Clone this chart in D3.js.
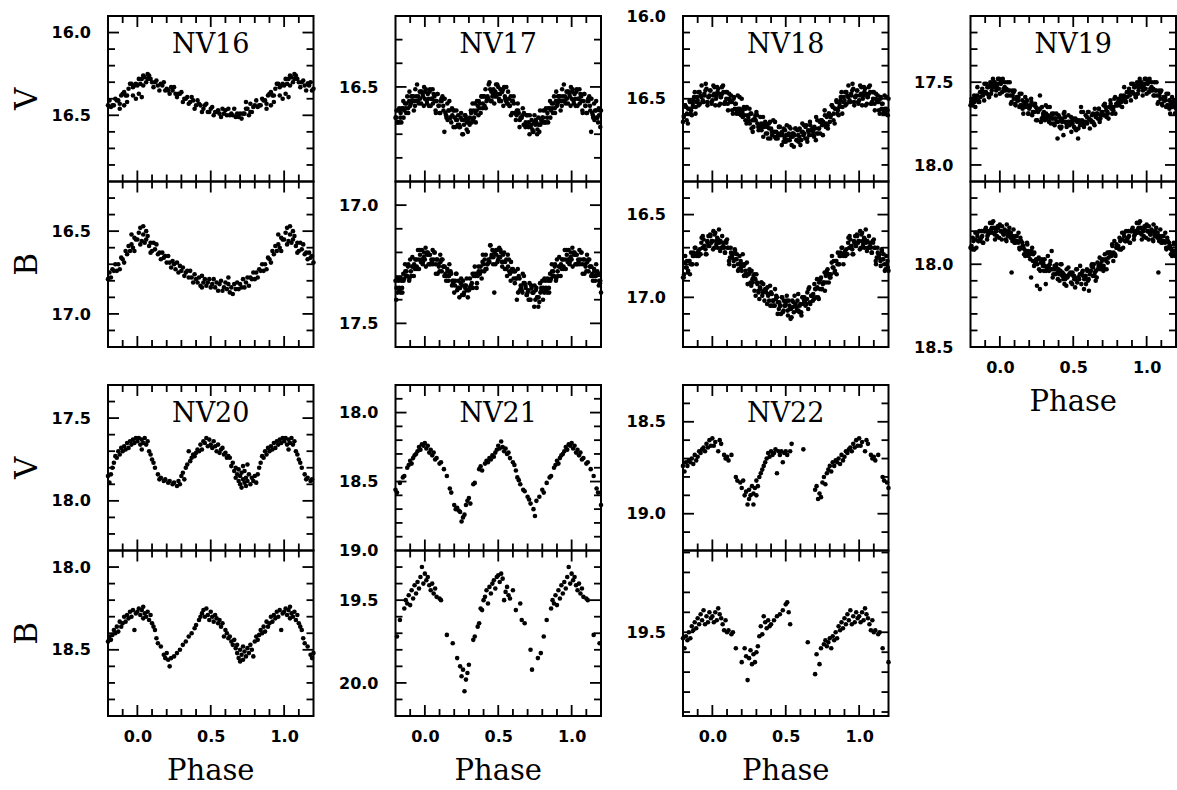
<!DOCTYPE html>
<html>
<head>
<meta charset="utf-8">
<script src="https://cdn.jsdelivr.net/npm/d3@7"></script>
<style>
body{margin:0;background:#fff}
</style>
</head>
<body>
<svg></svg>
<script>
// light curves, phase folded into 0..1
var names = ["NV16","NV17","NV18","NV19","NV20","NV21","NV22"]

// NV16, NV20-NV22: [phase, magnitude]
var nv16V = [[0,16.32],[.01,16.28],[.02,16.31],[.03,16.28],[.04,16.32],[.05,16.27],[.06,16.30],[.07,16.28],[.08,16.26],[.09,16.28],[.10,16.30],[.11,16.33],[.12,16.30],[.13,16.29],[.14,16.32],[.15,16.35],[.16,16.31],[.17,16.32],[.18,16.30],[.19,16.35],[.20,16.34],[.21,16.35],[.22,16.37],[.23,16.33],[.24,16.35],[.25,16.33],[.26,16.37],[.27,16.39],[.28,16.37],[.29,16.37],[.30,16.36],[.31,16.42],[.32,16.40],[.33,16.40],[.34,16.39],[.35,16.43],[.36,16.42],[.37,16.39],[.38,16.41],[.39,16.46],[.40,16.44],[.41,16.41],[.42,16.43],[.43,16.44],[.44,16.48],[.45,16.46],[.46,16.44],[.47,16.43],[.48,16.48],[.49,16.48],[.50,16.46],[.51,16.45],[.52,16.50],[.53,16.48],[.54,16.48],[.55,16.47],[.56,16.49],[.57,16.51],[.58,16.46],[.59,16.49],[.60,16.47],[.61,16.50],[.62,16.46],[.63,16.50],[.64,16.49],[.65,16.50],[.66,16.46],[.67,16.51],[.68,16.49],[.69,16.51],[.70,16.49],[.71,16.52],[.72,16.49],[.73,16.49],[.74,16.46],[.75,16.46],[.76,16.50],[.77,16.48],[.78,16.48],[.79,16.45],[.80,16.44],[.81,16.41],[.82,16.45],[.83,16.44],[.84,16.44],[.85,16.40],[.86,16.41],[.87,16.41],[.88,16.43],[.89,16.38],[.90,16.37],[.91,16.36],[.92,16.38],[.93,16.38],[.94,16.34],[.95,16.31],[.96,16.31],[.97,16.33],[.98,16.32],[.99,16.31],
  [.97,16.38],[.99,16.40],[.01,16.37],[.03,16.39],[.93,16.42],[.91,16.44],[.88,16.46],[.04,16.26],[.07,16.25],[.74,16.42],[.77,16.43]]
var nv16B = [[0,16.55],[.01,16.51],[.02,16.48],[.03,16.56],[.04,16.52],[.05,16.57],[.06,16.55],[.07,16.53],[.08,16.59],[.09,16.57],[.10,16.62],[.11,16.57],[.12,16.61],[.13,16.58],[.14,16.64],[.15,16.63],[.16,16.67],[.17,16.63],[.18,16.66],[.19,16.65],[.20,16.69],[.21,16.65],[.22,16.69],[.23,16.72],[.24,16.68],[.25,16.70],[.26,16.73],[.27,16.69],[.28,16.75],[.29,16.71],[.30,16.74],[.31,16.72],[.32,16.77],[.33,16.75],[.34,16.74],[.35,16.78],[.36,16.74],[.37,16.78],[.38,16.81],[.39,16.76],[.40,16.79],[.41,16.81],[.42,16.78],[.43,16.83],[.44,16.77],[.45,16.81],[.46,16.79],[.47,16.83],[.48,16.81],[.49,16.79],[.50,16.84],[.51,16.82],[.52,16.79],[.53,16.84],[.54,16.81],[.55,16.86],[.56,16.82],[.57,16.80],[.58,16.86],[.59,16.84],[.60,16.81],[.61,16.85],[.62,16.82],[.63,16.87],[.64,16.84],[.65,16.88],[.66,16.82],[.67,16.85],[.68,16.81],[.69,16.85],[.70,16.82],[.71,16.84],[.72,16.79],[.73,16.84],[.74,16.81],[.75,16.78],[.76,16.83],[.77,16.78],[.78,16.79],[.79,16.75],[.80,16.79],[.81,16.75],[.82,16.78],[.83,16.73],[.84,16.74],[.85,16.70],[.86,16.74],[.87,16.70],[.88,16.73],[.89,16.66],[.90,16.67],[.91,16.69],[.92,16.62],[.93,16.64],[.94,16.59],[.95,16.62],[.96,16.58],[.97,16.60],[.98,16.54],[.99,16.55],
  [.02,16.58],[.04,16.47],[.06,16.50],[.96,16.52],[.98,16.62],[.09,16.63],[.62,16.78],[.44,16.84]]

// NV17-NV19 were read on two phase grids: three readings per 0.02, then one per 0.01 in between
var gridPhase = [0,.007,.013,.02,.027,.033,.04,.047,.053,.06,.067,.073,.08,.087,.093,.10,.107,.113,.12,.127,.133,.14,.147,.153,.16,.167,.173,.18,.187,.193,
  .20,.207,.213,.22,.227,.233,.24,.247,.253,.26,.267,.273,.28,.287,.293,.30,.307,.313,.32,.327,.333,.34,.347,.353,.36,.367,.373,.38,.387,.393,
  .40,.407,.413,.42,.427,.433,.44,.447,.453,.46,.467,.473,.48,.487,.493,.50,.507,.513,.52,.527,.533,.54,.547,.553,.56,.567,.573,.58,.587,.593,
  .60,.607,.613,.62,.627,.633,.64,.647,.653,.66,.667,.673,.68,.687,.693,.70,.707,.713,.72,.727,.733,.74,.747,.753,.76,.767,.773,.78,.787,.793,
  .80,.807,.813,.82,.827,.833,.84,.847,.853,.86,.867,.873,.88,.887,.893,.90,.907,.913,.92,.927,.933,.94,.947,.953,.96,.967,.973,.98,.987,.993]
var midPhase = [.005,.015,.025,.035,.045,.055,.065,.075,.085,.095,.105,.115,.125,.135,.145,.155,.165,.175,.185,.195,
  .205,.215,.225,.235,.245,.255,.265,.275,.285,.295,.305,.315,.325,.335,.345,.355,.365,.375,.385,.395,
  .405,.415,.425,.435,.445,.455,.465,.475,.485,.495,.505,.515,.525,.535,.545,.555,.565,.575,.585,.595,
  .605,.615,.625,.635,.645,.655,.665,.675,.685,.695,.705,.715,.725,.735,.745,.755,.765,.775,.785,.795,
  .805,.815,.825,.835,.845,.855,.865,.875,.885,.895,.905,.915,.925,.935,.945,.955,.965,.975,.985,.995]

var nv17V = [16.55,16.51,16.56,16.53,16.58,16.52,16.58,16.55,16.51,16.53,16.56,16.60,16.56,16.53,16.58,16.61,16.56,16.55,16.54,16.60,16.69,16.61,16.63,16.57,16.60,16.56,16.63,16.65,16.62,16.60,
  16.60,16.67,16.64,16.64,16.62,16.67,16.67,16.61,16.64,16.70,16.66,16.62,16.63,16.65,16.69,16.65,16.63,16.60,16.65,16.64,16.60,16.57,16.65,16.60,16.58,16.56,16.59,16.61,16.54,16.59,
  16.54,16.58,16.51,16.56,16.54,16.55,16.48,16.56,16.52,16.54,16.51,16.57,16.52,16.54,16.49,16.50,16.56,16.53,16.56,16.52,16.51,16.50,16.55,16.56,16.57,16.52,16.55,16.58,16.62,16.56,
  16.56,16.57,16.61,16.64,16.60,16.57,16.61,16.64,16.63,16.63,16.59,16.66,16.66,16.65,16.62,16.62,16.65,16.70,16.67,16.64,16.68,16.69,16.62,16.66,16.65,16.68,16.63,16.69,16.66,16.64,
  16.63,16.60,16.65,16.60,16.65,16.63,16.65,16.59,16.56,16.60,16.59,16.61,16.54,16.61,16.56,16.58,16.54,16.56,16.54,16.56,16.58,16.54,16.49,16.56,16.57,16.55,16.52,16.52,16.54,16.58]
var nv17Vmid = [16.52,16.57,16.55,16.51,16.55,16.57,16.54,16.61,16.53,16.58,16.61,16.56,16.58,16.55,16.62,16.64,16.60,16.63,16.59,16.67,
  16.63,16.60,16.66,16.66,16.63,16.70,16.64,16.62,16.68,16.64,16.66,16.61,16.57,16.63,16.61,16.56,16.62,16.57,16.54,16.57,
  16.54,16.59,16.55,16.49,16.51,16.56,16.53,16.54,16.49,16.53,16.55,16.51,16.52,16.58,16.54,16.50,16.57,16.58,16.54,16.61,
  16.54,16.61,16.62,16.60,16.67,16.63,16.62,16.61,16.67,16.66,16.67,16.62,16.66,16.69,16.65,16.64,16.70,16.66,16.60,16.65,
  16.63,16.65,16.59,16.61,16.59,16.63,16.57,16.57,16.59,16.52,16.57,16.54,16.60,16.51,16.56,16.54,16.52,16.57,16.53,16.50]
var nv17B = [17.23,17.26,17.20,17.20,17.21,17.25,17.25,17.24,17.19,17.23,17.20,17.25,17.23,17.29,17.25,17.28,17.24,17.23,17.23,17.26,17.30,17.29,17.30,17.27,17.32,17.25,17.29,17.29,17.32,17.33,
  17.37,17.32,17.29,17.36,17.32,17.35,17.35,17.31,17.38,17.32,17.37,17.34,17.34,17.36,17.39,17.36,17.31,17.34,17.33,17.35,17.30,17.26,17.29,17.35,17.30,17.28,17.29,17.26,17.31,17.24,
  17.25,17.23,17.27,17.27,17.25,17.23,17.24,17.17,17.22,17.19,17.22,17.37,17.25,17.21,17.19,17.23,17.18,17.22,17.20,17.26,17.21,17.20,17.24,17.27,17.30,17.26,17.23,17.29,17.24,17.27,
  17.27,17.28,17.33,17.31,17.40,17.27,17.30,17.36,17.34,17.36,17.29,17.33,17.33,17.35,17.38,17.37,17.40,17.33,17.40,17.35,17.37,17.37,17.34,17.40,17.35,17.39,17.43,17.41,17.37,17.35,
  17.32,17.35,17.37,17.32,17.36,17.37,17.32,17.37,17.29,17.31,17.28,17.30,17.30,17.25,17.32,17.23,17.30,17.26,17.26,17.25,17.27,17.23,17.27,17.19,17.27,17.21,17.24,17.19,17.24,17.22]
var nv17Bmid = [17.18,17.21,17.25,17.21,17.23,17.25,17.20,17.29,17.23,17.26,17.21,17.28,17.26,17.26,17.32,17.28,17.30,17.28,17.34,17.32,
  17.34,17.29,17.35,17.39,17.33,17.34,17.38,17.35,17.31,17.36,17.35,17.35,17.29,17.29,17.30,17.33,17.26,17.29,17.28,17.21,
  17.28,17.21,17.25,17.24,17.17,17.21,17.25,17.20,17.19,17.24,17.22,17.19,17.24,17.24,17.27,17.23,17.21,17.28,17.32,17.28,
  17.31,17.28,17.31,17.37,17.31,17.35,17.37,17.30,17.34,17.38,17.36,17.40,17.34,17.37,17.43,17.36,17.39,17.39,17.33,17.36,
  17.40,17.31,17.35,17.31,17.35,17.32,17.25,17.28,17.26,17.31,17.28,17.22,17.30,17.23,17.26,17.23,17.19,17.23,17.25,17.20]

var nv18V = [16.51,16.42,16.47,16.54,16.48,16.43,16.44,16.47,16.53,16.49,16.47,16.42,16.53,16.52,16.46,16.46,16.57,16.50,16.51,16.48,16.52,16.59,16.49,16.56,16.53,16.58,16.48,16.59,16.56,16.57,
  16.50,16.61,16.56,16.60,16.56,16.65,16.60,16.63,16.56,16.59,16.68,16.63,16.67,16.62,16.60,16.58,16.65,16.67,16.68,16.61,16.65,16.67,16.73,16.65,16.64,16.66,16.71,16.74,16.68,16.64,
  16.68,16.72,16.70,16.70,16.64,16.74,16.73,16.71,16.67,16.67,16.71,16.78,16.72,16.68,16.74,16.76,16.66,16.72,16.71,16.75,16.68,16.78,16.73,16.71,16.72,16.68,16.75,16.69,16.76,16.73,
  16.78,16.70,16.65,16.72,16.71,16.74,16.66,16.76,16.69,16.72,16.66,16.69,16.68,16.70,16.73,16.68,16.61,16.71,16.71,16.68,16.64,16.63,16.66,16.72,16.65,16.60,16.67,16.61,16.68,16.59,
  16.64,16.60,16.54,16.55,16.59,16.65,16.56,16.52,16.59,16.60,16.53,16.51,16.46,16.55,16.52,16.51,16.54,16.46,16.48,16.42,16.52,16.52,16.48,16.45,16.44,16.54,16.49,16.48,16.45,16.52]
var nv18Vmid = [16.48,16.43,16.50,16.46,16.54,16.49,16.43,16.46,16.53,16.50,16.53,16.47,16.52,16.57,16.50,16.53,16.59,16.56,16.49,16.60,
  16.58,16.55,16.63,16.55,16.61,16.65,16.59,16.70,16.63,16.63,16.60,16.69,16.66,16.69,16.61,16.67,16.71,16.67,16.65,16.74,
  16.70,16.63,16.73,16.70,16.74,16.67,16.72,16.70,16.76,16.69,16.72,16.75,16.67,16.73,16.71,16.79,16.68,16.75,16.72,16.68,
  16.75,16.70,16.66,16.67,16.74,16.70,16.64,16.69,16.72,16.67,16.75,16.63,16.68,16.71,16.63,16.64,16.57,16.65,16.66,16.59,
  16.61,16.54,16.63,16.56,16.51,16.57,16.55,16.49,16.59,16.49,16.46,16.53,16.49,16.51,16.47,16.41,16.52,16.49,16.45,16.53]
var nv18B = [16.66,16.60,16.70,16.61,16.68,16.64,16.65,16.67,16.72,16.70,16.63,16.67,16.70,16.73,16.66,16.65,16.70,16.78,16.76,16.73,16.74,16.74,16.81,16.71,16.77,16.74,16.80,16.83,16.80,16.78,
  16.84,16.74,16.81,16.80,16.84,16.87,16.92,16.86,16.83,16.91,16.84,16.89,16.87,16.96,16.89,16.86,16.92,16.96,17.01,16.95,16.91,16.99,16.92,16.96,16.95,16.97,17.04,16.99,17.02,16.93,
  16.97,17.05,17.02,17.05,16.95,17.01,17.00,17.03,17.07,17.05,17.10,17.00,17.09,17.02,17.05,17.04,16.99,17.08,17.02,17.07,17.13,17.12,17.06,17.03,16.99,17.04,17.06,17.02,17.08,17.09,
  17.04,17.11,17.00,17.04,17.00,17.03,17.04,16.97,17.07,16.94,17.04,16.99,16.99,16.98,17.01,16.95,17.00,16.89,17.00,16.91,16.95,16.88,16.95,16.92,16.91,16.96,16.87,16.84,16.86,16.91,
  16.88,16.86,16.79,16.82,16.78,16.85,16.78,16.86,16.80,16.80,16.75,16.73,16.70,16.74,16.80,16.73,16.75,16.71,16.74,16.64,16.70,16.65,16.69,16.71,16.74,16.67,16.63,16.69,16.63,16.67]
var nv18Bmid = [16.71,16.62,16.66,16.70,16.59,16.66,16.70,16.69,16.73,16.67,16.70,16.80,16.70,16.76,16.78,16.72,16.77,16.84,16.75,16.82,
  16.80,16.87,16.86,16.79,16.86,16.85,16.93,16.91,16.86,16.99,16.91,16.97,16.94,16.91,16.97,17.02,16.95,16.94,16.98,17.05,
  16.98,17.02,17.05,16.99,17.10,17.03,17.05,17.00,17.08,17.05,17.02,17.11,17.05,17.07,17.02,17.09,17.05,17.08,16.98,17.05,
  17.09,17.00,17.02,17.05,17.01,16.95,17.03,16.99,17.02,16.92,16.95,16.94,17.01,16.89,16.95,16.91,16.85,16.91,16.83,16.86,
  16.88,16.75,16.82,16.84,16.78,16.73,16.80,16.75,16.70,16.75,16.72,16.74,16.67,16.63,16.69,16.74,16.66,16.69,16.62,16.66]

var nv19V = [17.57,17.51,17.50,17.48,17.55,17.53,17.55,17.58,17.50,17.55,17.50,17.58,17.62,17.58,17.56,17.55,17.64,17.60,17.61,17.59,17.65,17.64,17.57,17.61,17.69,17.64,17.59,17.62,17.64,17.69,
  17.66,17.64,17.60,17.70,17.68,17.64,17.63,17.73,17.67,17.68,17.66,17.58,17.74,17.65,17.71,17.68,17.73,17.64,17.72,17.70,17.71,17.65,17.75,17.70,17.72,17.69,17.76,17.72,17.74,17.84,
  17.70,17.77,17.73,17.77,17.72,17.82,17.68,17.74,17.75,17.76,17.70,17.74,17.75,17.80,17.73,17.72,17.73,17.78,17.79,17.74,17.84,17.73,17.76,17.65,17.73,17.68,17.77,17.75,17.74,17.71,
  17.68,17.72,17.78,17.73,17.70,17.74,17.75,17.66,17.71,17.69,17.72,17.66,17.74,17.70,17.68,17.68,17.64,17.70,17.65,17.71,17.68,17.72,17.65,17.61,17.66,17.65,17.67,17.60,17.69,17.63,
  17.64,17.60,17.62,17.60,17.62,17.65,17.59,17.53,17.61,17.62,17.59,17.56,17.54,17.56,17.61,17.56,17.51,17.57,17.53,17.59,17.52,17.57,17.53,17.48,17.50,17.53,17.58,17.52,17.48,17.54]
var nv19Vmid = [17.50,17.56,17.54,17.50,17.54,17.58,17.55,17.63,17.55,17.60,17.63,17.59,17.61,17.57,17.64,17.66,17.62,17.65,17.61,17.69,
  17.65,17.62,17.68,17.68,17.65,17.73,17.67,17.66,17.72,17.69,17.71,17.69,17.65,17.74,17.72,17.69,17.75,17.72,17.69,17.74,
  17.71,17.78,17.74,17.69,17.71,17.77,17.74,17.76,17.71,17.75,17.77,17.72,17.73,17.78,17.74,17.68,17.75,17.74,17.70,17.75,
  17.68,17.73,17.74,17.69,17.76,17.70,17.69,17.66,17.72,17.69,17.70,17.63,17.67,17.69,17.65,17.63,17.69,17.65,17.59,17.64,
  17.62,17.64,17.58,17.60,17.58,17.62,17.56,17.56,17.58,17.51,17.56,17.53,17.59,17.50,17.55,17.52,17.50,17.55,17.51,17.48]
var nv19B = [17.76,17.80,17.85,17.81,17.82,17.79,17.85,17.76,17.81,17.80,17.83,17.84,18.05,17.83,17.79,17.87,17.83,17.86,17.86,17.81,17.90,17.84,17.90,17.87,17.89,17.91,17.95,17.94,17.88,17.92,
  17.94,17.97,18.08,17.90,17.94,18.01,17.99,17.97,18.13,17.97,18.03,18.15,17.99,17.97,18.01,18.04,18.01,18.12,18.03,17.95,18.01,18.00,18.03,17.92,18.08,18.03,18.01,18.06,18.00,18.05,
  18.03,18.10,18.04,18.00,18.05,18.09,18.12,18.07,18.13,18.08,18.02,18.06,18.05,18.06,18.12,18.07,18.09,18.14,18.03,18.11,18.08,18.09,18.01,18.06,18.05,18.07,18.15,18.08,18.12,18.03,
  18.10,18.16,18.06,18.04,18.00,18.07,18.00,18.05,18.10,18.08,18.03,18.01,17.96,18.00,18.02,17.97,18.01,18.03,17.97,18.03,17.93,17.96,17.93,17.95,17.95,17.89,17.98,17.86,17.95,17.90,
  17.90,17.89,17.91,17.86,17.91,17.81,17.90,17.83,17.86,17.80,17.86,17.84,17.83,17.87,17.80,17.79,17.80,17.85,17.82,17.81,17.75,17.79,17.75,17.81,17.78,17.85,17.80,17.83,17.78,17.77]
var nv19Bmid = [17.80,17.77,17.82,17.80,17.86,17.83,17.78,17.81,17.86,17.85,17.87,17.83,17.87,17.91,17.86,17.89,17.94,17.92,17.87,17.95,
  17.94,17.92,17.98,17.93,17.98,18.00,17.96,18.04,17.99,17.99,17.97,18.04,18.02,18.04,17.98,18.03,18.06,18.03,18.02,18.09,
  18.06,18.00,18.07,18.06,18.09,18.03,18.07,18.06,18.11,18.05,18.07,18.09,18.03,18.08,18.06,18.12,18.04,18.09,18.07,18.04,
  18.09,18.04,18.01,18.02,18.07,18.04,17.99,18.01,18.03,17.98,18.04,17.94,17.98,17.99,17.93,17.93,17.88,17.93,17.94,17.88,
  17.90,17.84,17.91,17.85,17.81,17.86,17.85,17.80,17.87,17.80,17.78,17.83,17.80,17.81,17.78,17.74,17.82,17.80,17.77,17.84]

var nv20V = [[0,17.64],[.01,17.62],[.02,17.66],[.03,17.63],[.03,17.69],[.04,17.65],[.05,17.62],[.06,17.66],[.07,17.64],[.08,17.70],[.09,17.72],[.10,17.75],[.11,17.77],[.12,17.80],[.14,17.84],[.15,17.87],[.16,17.86],[.18,17.88],[.19,17.87],[.21,17.89],[.22,17.88],[.24,17.90],[.25,17.89],[.27,17.91],[.28,17.88],[.29,17.90],[.30,17.85],[.31,17.83],[.32,17.87],[.33,17.80],[.34,17.78],[.35,17.70],[.36,17.76],[.37,17.74],[.38,17.72],[.39,17.73],[.40,17.71],[.41,17.69],[.42,17.70],[.43,17.66],[.44,17.69],[.45,17.64],[.46,17.65],[.47,17.62],[.48,17.67],[.49,17.63],[.50,17.66],[.51,17.68],[.52,17.64],[.53,17.67],[.54,17.70],[.55,17.66],[.56,17.71],[.57,17.69],[.58,17.68],[.59,17.72],[.60,17.71],[.61,17.74],[.62,17.73],[.63,17.74],[.64,17.79],[.65,17.77],[.66,17.82],[.67,17.80],[.67,17.86],[.68,17.84],[.69,17.88],[.69,17.81],[.70,17.90],[.70,17.85],[.71,17.92],[.71,17.83],[.72,17.87],[.72,17.79],[.73,17.89],[.73,17.82],[.74,17.86],[.74,17.91],[.75,17.78],[.75,17.88],[.76,17.84],[.77,17.90],[.78,17.86],[.79,17.88],[.80,17.85],[.81,17.89],[.82,17.84],[.83,17.80],[.84,17.77],[.85,17.73],[.86,17.74],[.87,17.70],[.88,17.72],[.89,17.68],[.90,17.70],[.91,17.67],[.92,17.69],[.93,17.65],[.94,17.68],[.95,17.64],[.96,17.66],[.97,17.63],[.98,17.65],[.99,17.62]]
var nv20B = [[0,18.27],[.01,18.25],[.02,18.29],[.03,18.26],[.04,18.31],[.04,18.24],[.05,18.28],[.06,18.30],[.07,18.27],[.08,18.32],[.09,18.29],[.10,18.34],[.11,18.36],[.12,18.38],[.13,18.43],[.14,18.46],[.16,18.48],[.18,18.53],[.19,18.55],[.20,18.52],[.21,18.56],[.22,18.60],[.23,18.55],[.25,18.54],[.27,18.52],[.29,18.50],[.31,18.47],[.33,18.45],[.35,18.42],[.37,18.40],[.39,18.37],[.40,18.35],[.42,18.32],[.43,18.30],[.44,18.28],[.45,18.26],[.46,18.30],[.47,18.25],[.48,18.29],[.49,18.32],[.50,18.27],[.51,18.30],[.52,18.33],[.53,18.29],[.54,18.31],[.55,18.34],[.56,18.32],[.57,18.36],[.58,18.34],[.59,18.42],[.60,18.38],[.61,18.40],[.62,18.43],[.63,18.42],[.64,18.45],[.65,18.47],[.66,18.44],[.67,18.49],[.68,18.52],[.68,18.47],[.69,18.55],[.70,18.50],[.70,18.57],[.71,18.53],[.72,18.48],[.72,18.56],[.73,18.51],[.74,18.54],[.75,18.49],[.76,18.52],[.77,18.47],[.78,18.50],[.79,18.54],[.80,18.45],[.81,18.42],[.82,18.44],[.83,18.41],[.84,18.38],[.85,18.40],[.86,18.36],[.87,18.39],[.88,18.33],[.89,18.36],[.90,18.34],[.91,18.30],[.92,18.33],[.93,18.29],[.94,18.31],[.95,18.27],[.96,18.30],[.97,18.26],[.98,18.38],[.99,18.28]]

var nv21V = [[0,18.22],[.01,18.26],[.02,18.24],[.03,18.29],[.04,18.27],[.05,18.31],[.06,18.29],[.07,18.34],[.08,18.33],[.10,18.37],[.11,18.36],[.13,18.41],[.15,18.46],[.17,18.55],[.18,18.58],[.20,18.67],[.21,18.70],[.22,18.69],[.23,18.71],[.24,18.72],[.25,18.79],[.26,18.76],[.27,18.74],[.28,18.67],[.29,18.64],[.30,18.62],[.31,18.66],[.33,18.52],[.34,18.51],[.37,18.41],[.38,18.39],[.39,18.42],[.41,18.37],[.42,18.35],[.43,18.36],[.44,18.33],[.45,18.34],[.46,18.31],[.47,18.32],[.48,18.29],[.49,18.27],[.50,18.24],[.51,18.26],[.52,18.21],[.53,18.25],[.54,18.28],[.55,18.26],[.56,18.30],[.57,18.29],[.58,18.33],[.60,18.36],[.61,18.38],[.62,18.42],[.63,18.47],[.64,18.49],[.65,18.52],[.67,18.56],[.68,18.57],[.70,18.61],[.71,18.63],[.72,18.66],[.74,18.70],[.75,18.75],[.76,18.64],[.78,18.61],[.80,18.56],[.81,18.58],[.83,18.51],[.85,18.47],[.86,18.46],[.88,18.40],[.89,18.38],[.90,18.35],[.91,18.37],[.92,18.33],[.93,18.31],[.94,18.30],[.95,18.28],[.96,18.25],[.97,18.27],[.98,18.23],[.99,18.24]]
var nv21B = [[0,19.34],[.01,19.38],[.02,19.36],[.03,19.41],[.04,19.44],[.05,19.40],[.06,19.46],[.07,19.43],[.08,19.48],[.10,19.49],[.11,19.50],[.15,19.71],[.19,19.76],[.22,19.85],[.24,19.90],[.25,19.96],[.26,19.92],[.27,20.05],[.28,19.98],[.29,19.94],[.30,19.89],[.33,19.74],[.34,19.72],[.36,19.66],[.37,19.64],[.38,19.55],[.39,19.56],[.40,19.50],[.41,19.48],[.42,19.44],[.43,19.52],[.44,19.42],[.45,19.46],[.46,19.40],[.47,19.38],[.48,19.43],[.49,19.36],[.50,19.35],[.51,19.39],[.52,19.34],[.53,19.37],[.54,19.50],[.55,19.45],[.56,19.42],[.57,19.47],[.58,19.49],[.60,19.44],[.62,19.56],[.65,19.52],[.66,19.62],[.68,19.64],[.72,19.80],[.73,19.92],[.77,19.85],[.79,19.82],[.81,19.72],[.83,19.62],[.86,19.55],[.87,19.50],[.88,19.52],[.89,19.47],[.90,19.53],[.91,19.44],[.92,19.49],[.93,19.41],[.94,19.46],[.95,19.39],[.96,19.43],[.97,19.36],[.98,19.30],[.99,19.40]]

var nv22V = [[0,18.59],[.01,18.63],[.02,18.61],[.04,18.66],[.05,18.60],[.06,18.62],[.08,18.68],[.09,18.70],[.10,18.69],[.11,18.71],[.13,18.68],[.16,18.80],[.17,18.82],[.19,18.83],[.20,18.86],[.21,18.82],[.22,18.90],[.23,18.88],[.24,18.95],[.25,18.92],[.25,18.87],[.26,18.90],[.27,18.85],[.28,18.95],[.28,18.89],[.29,18.86],[.30,18.90],[.30,18.82],[.31,18.85],[.32,18.80],[.33,18.78],[.34,18.76],[.35,18.74],[.36,18.72],[.37,18.70],[.38,18.67],[.39,18.69],[.40,18.66],[.41,18.68],[.42,18.67],[.43,18.65],[.44,18.78],[.45,18.66],[.46,18.68],[.47,18.66],[.48,18.72],[.49,18.67],[.50,18.66],[.51,18.68],[.53,18.66],[.54,18.62],[.62,18.65],[.70,18.87],[.71,18.85],[.72,18.92],[.73,18.89],[.74,18.91],[.75,18.83],[.76,18.80],[.77,18.84],[.78,18.78],[.79,18.76],[.80,18.74],[.81,18.77],[.82,18.72],[.83,18.74],[.84,18.71],[.85,18.72],[.86,18.70],[.87,18.73],[.88,18.68],[.89,18.71],[.90,18.69],[.91,18.66],[.92,18.67],[.93,18.65],[.94,18.64],[.95,18.66],[.96,18.62],[.97,18.64],[.98,18.60],[.99,18.63]]
var nv22B = [[0,19.42],[.01,19.45],[.02,19.40],[.03,19.44],[.04,19.38],[.05,19.41],[.06,19.43],[.07,19.46],[.08,19.49],[.09,19.44],[.10,19.50],[.11,19.49],[.13,19.51],[.14,19.50],[.16,19.58],[.20,19.65],[.22,19.58],[.23,19.62],[.24,19.74],[.25,19.63],[.26,19.59],[.27,19.66],[.28,19.61],[.29,19.65],[.30,19.60],[.31,19.57],[.32,19.52],[.33,19.47],[.34,19.51],[.35,19.42],[.36,19.45],[.37,19.48],[.38,19.44],[.39,19.47],[.40,19.46],[.42,19.44],[.44,19.42],[.46,19.41],[.48,19.39],[.50,19.36],[.51,19.35],[.52,19.40],[.53,19.46],[.65,19.55],[.70,19.71],[.71,19.61],[.73,19.66],[.74,19.58],[.76,19.56],[.77,19.54],[.78,19.57],[.79,19.55],[.80,19.53],[.81,19.58],[.82,19.52],[.83,19.54],[.84,19.50],[.85,19.53],[.86,19.47],[.87,19.49],[.88,19.45],[.89,19.48],[.90,19.43],[.91,19.46],[.92,19.41],[.93,19.44],[.94,19.39],[.95,19.46],[.96,19.42],[.97,19.45],[.98,19.40],[.99,19.43]]

// axis ranges (magnitudes grow downward) and labelled ticks
var phaseDomain = [-0.2, 1.2]
var vDomains = [[15.9,16.9],[16.2,16.9],[16.0,17.0],[17.1,18.1],[17.3,18.3],[17.8,19.0],[18.3,19.2]]
var bDomains = [[16.2,17.2],[16.9,17.6],[16.3,17.3],[17.5,18.5],[17.9,18.9],[19.2,20.2],[19.09,19.92]]
var vLabels = [[16.0,16.5],[16.5],[16.0,16.5],[17.5,18.0],[17.5,18.0],[18.0,18.5,19.0],[18.5,19.0]]
var bLabels = [[16.5,17.0],[17.0,17.5],[16.5,17.0],[18.0,18.5],[18.0,18.5],[19.5,20.0],[19.5]]
var xMinorTicks = [-0.1,0.0,0.1,0.2,0.3,0.4,0.5,0.6,0.7,0.8,0.9,1.0,1.1]
var xMajorTicks = [0.0,0.5,1.0]

var pair = function(phases, mags)
{
    return mags.map(function(m,i){return [phases[i], m]})
}
var both = function(a, b)
{
    return pair(gridPhase, a).concat(pair(midPhase, b))
}
var vData = [nv16V, both(nv17V,nv17Vmid), both(nv18V,nv18Vmid), both(nv19V,nv19Vmid), nv20V, nv21V, nv22V]
var bData = [nv16B, both(nv17B,nv17Bmid), both(nv18B,nv18Bmid), both(nv19B,nv19Bmid), nv20B, nv21B, nv22B]

var page = {width:1177, height:790}
var panelW = 205.5
var halfH = 165.5
var grid = [[0,0],[1,0],[2,0],[3,0],[0,1],[1,1],[2,1]]
var tickFont = "'DejaVu Sans', sans-serif"
var serifFont = "'DejaVu Serif', serif"
var tickW = 1.8

var svg = d3.select("svg")
            .attr("width",page.width)
            .attr("height",page.height)

var isMajor = function(v){return Math.abs(v*2-Math.round(v*2))<1e-6}
var tickLen = function(v){return isMajor(v) ? 11 : 7}

var addLabels = function(g, axis, tx, ty)
{
    var a = g.append("g")
             .attr("transform","translate("+tx+","+ty+")")
             .call(axis)
    a.select(".domain").remove()
    a.attr("font-family",tickFont)
     .attr("font-size",16)
     .attr("font-weight","bold")
    return a
}

var drawBand = function(g, xScale, band)
{
    var yScale = d3.scaleLinear()
                   .domain(band.dom)
                   .range([band.y0, band.y0+halfH])

    // fold every point onto phase-1 / phase / phase+1
    var shown = []
    band.pts.forEach(function(d)
    {
        [-1,0,1].forEach(function(k)
        {
            var p = d[0]+k
            if (p>=phaseDomain[0] && p<=phaseDomain[1] && d[1]>=band.dom[0] && d[1]<=band.dom[1])
                shown.push([p,d[1]])
        })
    })

    g.append("g")
     .selectAll("circle")
     .data(shown)
     .enter()
     .append("circle")
     .attr("cx",function(d){return xScale(d[0])})
     .attr("cy",function(d){return yScale(d[1])})
     .attr("r",2.3)
     .attr("fill","black")

    var yTicks = d3.range(Math.ceil(band.dom[0]*10+0.001), Math.floor(band.dom[1]*10-0.001)+1)
                   .map(function(k){return k/10})

    // inward tick marks on all four sides, as thin filled bars
    var ticks = g.append("g").attr("fill","black")
    ticks.selectAll(".yl").data(yTicks).enter().append("rect")
         .attr("class","yl")
         .attr("x",0)
         .attr("y",function(d){return yScale(d)-tickW/2})
         .attr("width",function(d){return tickLen(d)})
         .attr("height",tickW)
    ticks.selectAll(".yr").data(yTicks).enter().append("rect")
         .attr("class","yr")
         .attr("x",function(d){return panelW-tickLen(d)})
         .attr("y",function(d){return yScale(d)-tickW/2})
         .attr("width",function(d){return tickLen(d)})
         .attr("height",tickW)
    ticks.selectAll(".xt").data(xMinorTicks).enter().append("rect")
         .attr("class","xt")
         .attr("x",function(d){return xScale(d)-tickW/2})
         .attr("y",band.y0)
         .attr("width",tickW)
         .attr("height",function(d){return tickLen(d)})
    ticks.selectAll(".xb").data(xMinorTicks).enter().append("rect")
         .attr("class","xb")
         .attr("x",function(d){return xScale(d)-tickW/2})
         .attr("y",function(d){return band.y0+halfH-tickLen(d)})
         .attr("width",tickW)
         .attr("height",function(d){return tickLen(d)})

    addLabels(g, d3.axisLeft(yScale).tickValues(band.labels).tickSize(0).tickPadding(17).tickFormat(d3.format(".1f")), 0, 0)

    g.append("rect")
     .attr("x",0)
     .attr("y",band.y0)
     .attr("width",panelW)
     .attr("height",halfH)
     .attr("fill","none")
     .attr("stroke","black")
     .attr("stroke-width",2)
}

var drawPanel = function(name, i)
{
    var col = grid[i][0], row = grid[i][1]
    var left = 108 + col*287.5
    var top = 16 + row*369
    var g = svg.append("g")
               .attr("transform","translate("+left+","+top+")")
    var xScale = d3.scaleLinear()
                   .domain(phaseDomain)
                   .range([0,panelW])

    var bands = [
        {name:"V", pts:vData[i], dom:vDomains[i], labels:vLabels[i], y0:0},
        {name:"B", pts:bData[i], dom:bDomains[i], labels:bLabels[i], y0:halfH}
    ]
    bands.forEach(function(band)
    {
        drawBand(g, xScale, band)
        if (col==0)
        {
            g.append("text")
             .attr("transform","translate(-71,"+(band.y0+halfH/2)+") rotate(-90)")
             .attr("text-anchor","middle")
             .attr("font-family",serifFont)
             .attr("font-size",31)
             .text(band.name)
        }
    })

    g.append("text")
     .attr("x",panelW/2)
     .attr("y",37)
     .attr("text-anchor","middle")
     .attr("font-family",serifFont)
     .attr("font-size",27)
     .text(name)

    // lowest panel of each column gets the phase axis labels
    if (i>=3)
    {
        addLabels(g, d3.axisBottom(xScale).tickValues(xMajorTicks).tickSize(0).tickPadding(15).tickFormat(d3.format(".1f")), 0, 2*halfH)
        g.append("text")
         .attr("x",panelW/2)
         .attr("y",2*halfH+64)
         .attr("text-anchor","middle")
         .attr("font-family",serifFont)
         .attr("font-size",29)
         .text("Phase")
    }
}

names.forEach(drawPanel)
</script>
</body>
</html>
